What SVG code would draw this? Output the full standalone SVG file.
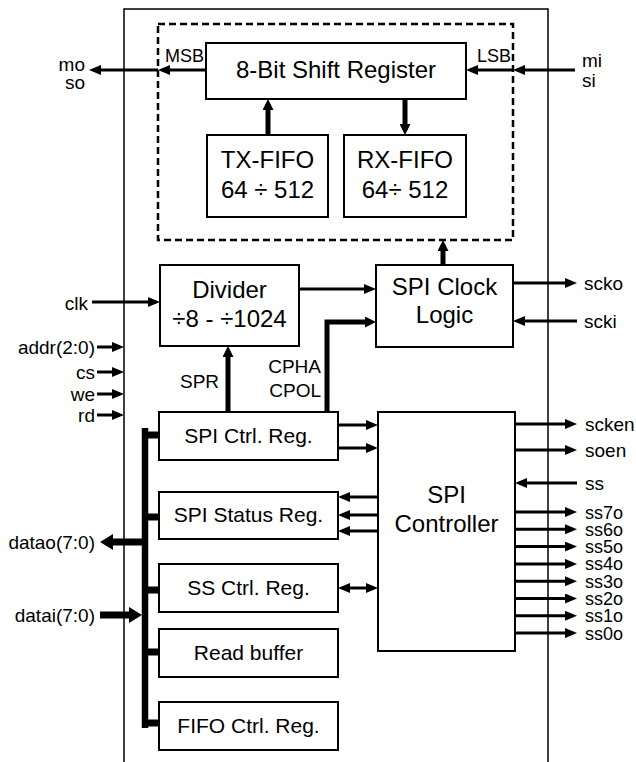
<svg xmlns="http://www.w3.org/2000/svg" width="636" height="762" viewBox="0 0 636 762">
<style>
text{font-family:"Liberation Sans",Arial,sans-serif;fill:#000}
.box{fill:#fff;stroke:#000;stroke-width:2}
.t24{font-size:24px;text-anchor:middle}
.t21{font-size:21px;text-anchor:middle}
.lbl{font-size:19px}
.ssl{font-size:18px}
.sm{font-size:18px}
.e{text-anchor:end}
.thin{fill:none;stroke:#000;stroke-width:3}
.thick{fill:none;stroke:#000;stroke-width:5}
.bus{fill:none;stroke:#000;stroke-width:7}
</style>
<defs>
<marker id="a" markerUnits="userSpaceOnUse" viewBox="0 0 12 10" markerWidth="12" markerHeight="10" refX="8" refY="5" orient="auto-start-reverse"><path d="M0,0 L12,5 L0,10 z"/></marker>
<marker id="b" markerUnits="userSpaceOnUse" viewBox="0 0 11 11" markerWidth="11" markerHeight="11" refX="6" refY="5.5" orient="auto"><path d="M0,0 L11,5.5 L0,11 z"/></marker>
<marker id="c" markerUnits="userSpaceOnUse" viewBox="0 0 13 16" markerWidth="13" markerHeight="16" refX="6" refY="8" orient="auto"><path d="M0,0 L13,8 L0,16 z"/></marker>
</defs>

<path d="M124,762 V9 H548 V762" fill="none" stroke="#000" stroke-width="1.5"/>
<rect x="158" y="24" width="355" height="216" fill="none" stroke="#000" stroke-width="2.5" stroke-dasharray="7,4"/>

<g id="shift"><rect class="box" x="206" y="43" width="260" height="56"/><text class="t24" x="336" y="78">8-Bit Shift Register</text></g>
<g id="txfifo"><rect class="box" x="207" y="135" width="121" height="82"/><text class="t24" x="267.5" y="168">TX-FIFO</text><text class="t24" x="267.5" y="198">64 ÷ 512</text></g>
<g id="rxfifo"><rect class="box" x="344" y="135" width="122" height="82"/><text class="t24" x="405" y="168">RX-FIFO</text><text class="t24" x="405" y="198">64÷ 512</text></g>
<g id="divider"><rect class="box" x="160" y="265" width="139" height="81"/><text class="t24" x="229.5" y="298">Divider</text><text class="t24" x="229.5" y="327">÷8 - ÷1024</text></g>
<g id="clocklogic"><rect class="box" x="376" y="265" width="137" height="82"/><text class="t24" x="444.5" y="295">SPI Clock</text><text class="t24" x="444.5" y="323">Logic</text></g>
<g id="ctrlreg"><rect class="box" x="159" y="412" width="179" height="48"/><text class="t21" x="248.5" y="443">SPI Ctrl. Reg.</text></g>
<g id="statusreg"><rect class="box" x="159" y="492" width="179" height="47"/><text class="t21" x="248.5" y="522">SPI Status Reg.</text></g>
<g id="ssreg"><rect class="box" x="159" y="564" width="179" height="48"/><text class="t21" x="248.5" y="595">SS Ctrl. Reg.</text></g>
<g id="readbuf"><rect class="box" x="159" y="629" width="179" height="48"/><text class="t21" x="248.5" y="660">Read buffer</text></g>
<g id="fiforeg"><rect class="box" x="159" y="702" width="179" height="48"/><text class="t21" x="248.5" y="733">FIFO Ctrl. Reg.</text></g>
<g id="controller"><rect class="box" x="378" y="412" width="137" height="239"/><text class="t24" x="446.5" y="503">SPI</text><text class="t24" x="446.5" y="532">Controller</text></g>

<g id="connectors">
<path class="thin" d="M206,70 H162" marker-end="url(#a)"/>
<path class="thin" d="M158,70 H93" marker-end="url(#a)"/>
<path class="thin" d="M575,70 H517" marker-end="url(#a)"/>
<path class="thin" d="M513,70 H470" marker-end="url(#a)"/>
<path class="thick" d="M268,135 V104" marker-end="url(#b)"/>
<path class="thick" d="M405,99 V130" marker-end="url(#b)"/>
<path class="thick" d="M443,265 V245" marker-end="url(#b)"/>
<path class="thin" d="M92,302 H156" marker-end="url(#a)"/>
<path class="thin" d="M299,289 H372" marker-end="url(#a)"/>
<path class="thick" d="M327,413 V322 H371" marker-end="url(#b)"/>
<path class="thick" d="M228,412 V351" marker-end="url(#b)"/>
<path class="thin" d="M513,283 H573" marker-end="url(#a)"/>
<path class="thin" d="M577,321 H517" marker-end="url(#a)"/>
<path class="thin" d="M97,347 H120" marker-end="url(#a)"/>
<path class="thin" d="M97,372 H120" marker-end="url(#a)"/>
<path class="thin" d="M97,394 H120" marker-end="url(#a)"/>
<path class="thin" d="M97,415 H120" marker-end="url(#a)"/>
<path fill="none" stroke="#000" stroke-width="6.5" d="M145,428 V728"/>
<path class="bus" d="M145,435 H159 M145,517 H159 M145,590 H159 M145,652 H159 M145,723 H159"/>
<path class="bus" d="M145,542 H107" marker-end="url(#c)"/>
<path class="bus" d="M100,615 H135" marker-end="url(#c)"/>
<path class="thin" d="M338,425 H374" marker-end="url(#a)"/>
<path class="thin" d="M338,448 H374" marker-end="url(#a)"/>
<path class="thin" d="M378,497 H342" marker-end="url(#a)"/>
<path class="thin" d="M378,515 H342" marker-end="url(#a)"/>
<path class="thin" d="M378,531 H342" marker-end="url(#a)"/>
<path class="thin" d="M342,588 H374" marker-start="url(#a)" marker-end="url(#a)"/>
<path class="thin" d="M515,424 H573" marker-end="url(#a)"/>
<path class="thin" d="M515,450 H573" marker-end="url(#a)"/>
<path class="thin" d="M577,483 H519" marker-end="url(#a)"/>
<path class="thin" d="M515,512 H573" marker-end="url(#a)"/>
<path class="thin" d="M515,529.3 H573" marker-end="url(#a)"/>
<path class="thin" d="M515,546.6 H573" marker-end="url(#a)"/>
<path class="thin" d="M515,563.9 H573" marker-end="url(#a)"/>
<path class="thin" d="M515,581.2 H573" marker-end="url(#a)"/>
<path class="thin" d="M515,598.5 H573" marker-end="url(#a)"/>
<path class="thin" d="M515,615.8 H573" marker-end="url(#a)"/>
<path class="thin" d="M515,633.1 H573" marker-end="url(#a)"/>
</g>

<g id="labels">
<text class="lbl e" x="85" y="71">mo</text>
<text class="lbl e" x="85" y="89">so</text>
<text class="lbl" x="582" y="67">mi</text>
<text class="lbl" x="582" y="87">si</text>
<text class="sm" x="165" y="62">MSB</text>
<text class="sm" x="477" y="62">LSB</text>
<text class="lbl e" x="88" y="310">clk</text>
<text class="lbl e" x="95" y="354">addr(2:0)</text>
<text class="lbl e" x="95" y="379">cs</text>
<text class="lbl e" x="95" y="401">we</text>
<text class="lbl e" x="95" y="422">rd</text>
<text class="lbl" x="180" y="388">SPR</text>
<text class="lbl e" x="321" y="373">CPHA</text>
<text class="lbl e" x="321" y="397">CPOL</text>
<text class="lbl" x="584" y="290">scko</text>
<text class="lbl" x="584" y="328">scki</text>
<text class="lbl e" x="95" y="549">datao(7:0)</text>
<text class="lbl e" x="95" y="622">datai(7:0)</text>
<text class="lbl" x="585" y="431">scken</text>
<text class="lbl" x="585" y="457">soen</text>
<text class="lbl" x="585" y="490">ss</text>
<text class="ssl" x="585" y="518.5">ss7o</text>
<text class="ssl" x="585" y="535.8">ss6o</text>
<text class="ssl" x="585" y="553.1">ss5o</text>
<text class="ssl" x="585" y="570.4">ss4o</text>
<text class="ssl" x="585" y="587.7">ss3o</text>
<text class="ssl" x="585" y="605">ss2o</text>
<text class="ssl" x="585" y="622.3">ss1o</text>
<text class="ssl" x="585" y="639.6">ss0o</text>
</g>
</svg>
